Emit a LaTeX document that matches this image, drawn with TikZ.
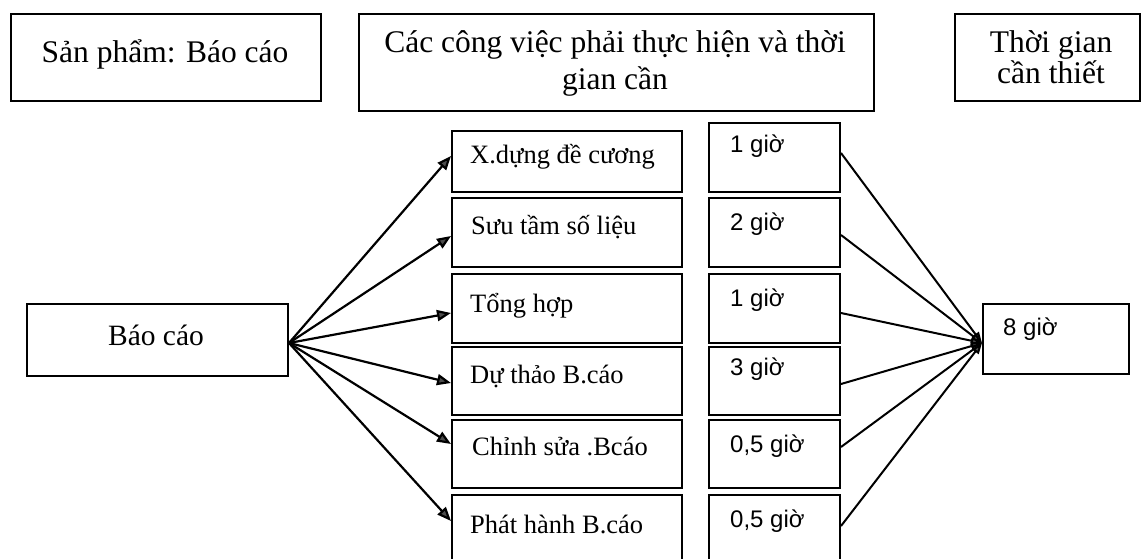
\documentclass[tikz,border=0pt]{standalone}
\usepackage{fontspec}
\setmainfont{Liberation Serif}
\newfontfamily\arialf{Liberation Sans}
\usetikzlibrary{arrows.meta}
\begin{document}
\begin{tikzpicture}[x=1pt,y=-1pt,
  box/.style={draw, line width=2pt, inner sep=0pt, anchor=north west},
  lbl/.style={inner sep=0pt, anchor=base},
  lbll/.style={inner sep=0pt, anchor=base west},
  hd/.style={font=\fontsize{31.5}{36}\selectfont},
  bc/.style={font=\fontsize{29.5}{34}\selectfont},
  tk/.style={font=\fontsize{26.5}{30}\selectfont},
  tm/.style={font=\arialf\fontsize{24}{28}\selectfont},
  arr/.style={line width=2.2pt, -{Triangle[length=14pt,width=11pt,fill=black!70]}},
  arrb/.style={line width=2pt, -{Triangle[length=11pt,width=8pt,fill=black!70]}}]
\clip (0,0) rectangle (1141,559);
\fill[white] (0,0) rectangle (1141,559);
% headers
\node[box, minimum width=310pt, minimum height=87pt] (h1) at (10,13) {};
\node[box, minimum width=515pt, minimum height=97pt] (h2) at (358,13) {};
\node[box, minimum width=185pt, minimum height=87pt] (h3) at (954,13) {};
\node[lbl, hd] (h1t) at (165,63) {Sản phẩm: Báo cáo};
\node[lbl, hd] (h2a) at (615,53) {Các công việc phải thực hiện và thời};
\node[lbl, hd] (h2b) at (615,90) {gian cần};
\node[lbl, hd] (h3a) at (1051,53) {Thời gian};
\node[lbl, hd] (h3b) at (1051,84) {cần thiết};
% source
\node[box, minimum width=261pt, minimum height=72pt] (b) at (26,303) {};
\node[lbl, bc] (bt) at (156,345) {Báo cáo};
% tasks
\node[box, minimum width=230pt, minimum height=61pt] (t1) at (451,130) {};
\node[box, minimum width=230pt, minimum height=69pt] (t2) at (451,197) {};
\node[box, minimum width=230pt, minimum height=69pt] (t3) at (451,273) {};
\node[box, minimum width=230pt, minimum height=68pt] (t4) at (451,346) {};
\node[box, minimum width=230pt, minimum height=68pt] (t5) at (451,419) {};
\node[box, minimum width=230pt, minimum height=86pt] (t6) at (451,494) {};
\node[lbll, tk] (t1t) at (470,164) {X.dựng đề cương};
\node[lbll, tk] (t2t) at (471,234) {Sưu tầm số liệu};
\node[lbll, tk] (t3t) at (470,312) {Tổng hợp};
\node[lbll, tk] (t4t) at (470,383) {Dự thảo B.cáo};
\node[lbll, tk] (t5t) at (472,455) {Chỉnh sửa .Bcáo};
\node[lbll, tk] (t6t) at (470,533) {Phát hành B.cáo};
% times
\node[box, minimum width=131pt, minimum height=69pt] (m1) at (708,122) {};
\node[box, minimum width=131pt, minimum height=69pt] (m2) at (708,197) {};
\node[box, minimum width=131pt, minimum height=69pt] (m3) at (708,273) {};
\node[box, minimum width=131pt, minimum height=68pt] (m4) at (708,346) {};
\node[box, minimum width=131pt, minimum height=68pt] (m5) at (708,419) {};
\node[box, minimum width=131pt, minimum height=86pt] (m6) at (708,494) {};
\node[lbll, tm] (m1t) at (730,153) {1 giờ};
\node[lbll, tm] (m2t) at (730,230) {2 giờ};
\node[lbll, tm] (m3t) at (730,306) {1 giờ};
\node[lbll, tm] (m4t) at (730,375) {3 giờ};
\node[lbll, tm] (m5t) at (730,452) {0,5 giờ};
\node[lbll, tm] (m6t) at (730,527) {0,5 giờ};
% total
\node[box, minimum width=146pt, minimum height=70pt] (e) at (982,303) {};
\node[lbll, tm] (et) at (1003,335) {8 giờ};
% left fan
\coordinate (o) at ([yshift=-3pt]b.east);
\draw[arr] (o) -- ([yshift=5.5pt]t1.west);
\draw[arr] (o) -- ([yshift=-3.5pt]t2.west);
\draw[arr] (o) -- ([yshift=-4.5pt]t3.west);
\draw[arr] (o) -- ([yshift=-2pt]t4.west);
\draw[arr] (o) -- ([yshift=10pt]t5.west);
\draw[arr] (o) -- ([yshift=17pt]t6.west);
% right fan
\coordinate (c) at ([yshift=-4pt]e.west);
\draw[arrb] ([yshift=4.5pt]m1.east) -- (c);
\draw[arrb] ([yshift=-2.5pt]m2.east) -- (c);
\draw[arrb] ([yshift=-4.5pt]m3.east) -- (c);
\draw[arrb] ([yshift=-3pt]m4.east) -- (c);
\draw[arrb] ([yshift=7pt]m5.east) -- (c);
\draw[arrb] ([yshift=12pt]m6.east) -- (c);
\end{tikzpicture}
\end{document}
